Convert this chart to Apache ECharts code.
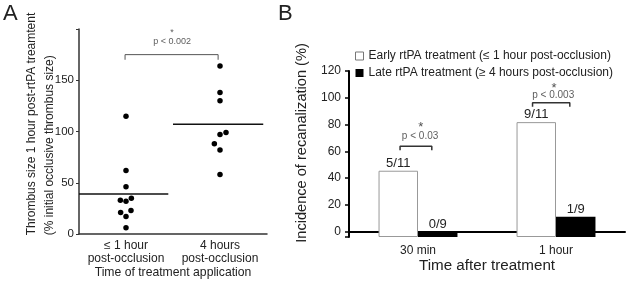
<!DOCTYPE html>
<html>
<head>
<meta charset="utf-8">
<script src="https://cdn.jsdelivr.net/npm/echarts@6/dist/echarts.min.js"></script>
<style>
  html, body { margin: 0; padding: 0; background: #fff; }
  #chart { width: 630px; height: 284px; }
</style>
</head>
<body>
<div id="chart"></div>
<script>
// panel A: thrombus size per mouse (% of initial), x jitter in category units
const groupA = ['≤ 1 hour\npost-occlusion', '4 hours\npost-occlusion']
const earlySize = [115, 62, 46, 33, 32, 35, 21, 23, 17, 6]
const earlyJitter = [0, 0, 0, -0.06, 0, 0.057, -0.057, 0.053, 0, 0]
const lateSize = [164, 138, 130, 99, 97, 88, 82, 58]
const lateJitter = [0, 0, 0, 0.064, 0, -0.06, 0, 0]
const meanSize = [39, 107]

// panel B: recanalization incidence (%)
const timesB = ['30 min', '1 hour']
const earlyPct = [45.5, 81.8]
const latePct = [0, 11.1]
const earlyFrac = ['5/11', '9/11']
const lateFrac = ['0/9', '1/9']

const font = 'Liberation Sans, Arial, sans-serif'
const ink = '#222'

const chart = echarts.init(document.getElementById('chart'), null, { renderer: 'canvas' })

// scatter points for panel A, centred on each category (0.5, 1.5)
const ptsEarly = earlySize.map((v, i) => [0.5 + earlyJitter[i], v])
const ptsLate = lateSize.map((v, i) => [1.5 + lateJitter[i], v])

const bracket = (x0, x1, y, leg) => [[x0, y - leg], [x0, y], [x1, y], [x1, y - leg]]

const option = {
    animation: false,
    textStyle: { fontFamily: font, color: ink },
    grid: [
        { left: 79, top: 29, width: 188, height: 207 },
        { left: 349, top: 71, width: 276, height: 166 }
    ],
    legend: {
        left: 355,
        top: 50,
        padding: 0,
        orient: 'vertical',
        itemWidth: 8,
        itemHeight: 8,
        itemGap: 5,
        icon: 'rect',
        textStyle: { fontFamily: font, fontSize: 12, color: ink },
        data: [
            { name: 'Early rtPA treatment (≤ 1 hour post-occlusion)', itemStyle: { color: '#fff', borderColor: '#777', borderWidth: 1 } },
            { name: 'Late rtPA treatment (≥ 4 hours post-occlusion)', itemStyle: { color: '#000' } }
        ]
    },
    xAxis: [
        {
            type: 'category', gridIndex: 0, data: groupA, boundaryGap: true,
            axisLine: { lineStyle: { color: '#333', width: 1.5 } },
            axisTick: { inside: true, length: 3, lineStyle: { color: '#333' } },
            axisLabel: { interval: 0, fontSize: 12, color: ink, margin: 5, lineHeight: 13, fontFamily: font },
            name: 'Time of treatment application', nameLocation: 'middle', nameGap: 33, nameMoveOverlap: false,
            nameTextStyle: { fontSize: 12.2, color: ink, fontFamily: font }
        },
        { type: 'value', gridIndex: 0, min: 0, max: 2, show: false },
        {
            type: 'category', gridIndex: 1, data: timesB, boundaryGap: true,
            axisLine: { lineStyle: { color: '#000', width: 2 } },
            axisTick: { length: 4, lineStyle: { color: '#000', width: 1.5 } },
            axisLabel: { interval: 0, fontSize: 12, color: ink, margin: 8, fontFamily: font },
            name: 'Time after treatment', nameLocation: 'middle', nameGap: 21, nameMoveOverlap: false,
            nameTextStyle: { fontSize: 15.2, color: ink, fontFamily: font }
        },
        { type: 'value', gridIndex: 1, min: 0, max: 2, show: false }
    ],
    yAxis: [
        {
            type: 'value', gridIndex: 0, min: 0, max: 200, interval: 50,
            splitLine: { show: false },
            axisLine: { show: true, lineStyle: { color: '#333', width: 1.5 } },
            axisTick: { show: true, length: 3, lineStyle: { color: '#333' } },
            axisLabel: {
                fontSize: 11.5, color: ink, margin: 5, fontFamily: font,
                formatter: v => (v === 200 ? '' : v)
            },
            // both lines start at the bottom of the axis, like the original
            name: '{l|Thrombus size 1 hour post-rtPA treamtent}\n{l|(% initial occlusive thrombus size)}',
            nameLocation: 'middle', nameRotate: 90, nameGap: 20, nameMoveOverlap: false,
            nameTextStyle: {
                fontSize: 12, lineHeight: 18, color: ink, fontFamily: font, padding: [0, 0, 0, 15],
                rich: { l: { align: 'left', fontSize: 12, lineHeight: 18, color: ink, fontFamily: font } }
            }
        },
        {
            type: 'value', gridIndex: 1, min: -4, max: 120, splitNumber: 6, startValue: -4,
            splitLine: { show: false },
            axisLine: { show: true, lineStyle: { color: '#000', width: 2 } },
            axisTick: { show: true, length: 4, lineStyle: { color: '#000', width: 1.5 } },
            axisLabel: {
                fontSize: 12, color: ink, margin: 8, fontFamily: font,
                formatter: v => (v < 0 ? '' : v)
            },
            name: 'Incidence of recanalization (%)',
            nameLocation: 'middle', nameRotate: 90, nameGap: 40, nameMoveOverlap: false,
            nameTextStyle: { fontSize: 14.6, color: ink, fontFamily: font, padding: [0, 0, 0, 22] }
        }
    ],
    series: [
        // panel A
        {
            type: 'scatter', xAxisIndex: 1, yAxisIndex: 0, data: ptsEarly,
            symbolSize: 5.5, itemStyle: { color: '#000', opacity: 1 }, silent: true
        },
        {
            type: 'scatter', xAxisIndex: 1, yAxisIndex: 0, data: ptsLate,
            symbolSize: 5.5, itemStyle: { color: '#000', opacity: 1 }, silent: true
        },
        {
            type: 'line', xAxisIndex: 1, yAxisIndex: 0, symbol: 'none',
            lineStyle: { color: '#111', width: 1.5 },
            data: [[0, meanSize[0]], [0.95, meanSize[0]]]
        },
        {
            type: 'line', xAxisIndex: 1, yAxisIndex: 0, symbol: 'none',
            lineStyle: { color: '#111', width: 1.5 },
            data: [[1.0, meanSize[1]], [1.96, meanSize[1]]]
        },
        {
            type: 'line', xAxisIndex: 1, yAxisIndex: 0, symbol: 'none',
            lineStyle: { color: '#555', width: 1 },
            data: bracket(0.49, 1.48, 175, 5)
        },
        {
            type: 'scatter', xAxisIndex: 1, yAxisIndex: 0, symbolSize: 0, silent: true,
            label: { show: true, position: 'inside', fontSize: 9, color: '#333', fontFamily: font, formatter: p => p.name },
            data: [
                { name: 'p < 0.002', value: [0.99, 187.5] },
                { name: '*', value: [0.99, 197] }
            ]
        },
        // panel B
        {
            name: 'Early rtPA treatment (≤ 1 hour post-occlusion)',
            type: 'bar', xAxisIndex: 2, yAxisIndex: 1, data: earlyPct,
            barWidth: '28.6%', barGap: '0%',
            itemStyle: { color: '#fff', borderColor: '#999', borderWidth: 1 },
            label: { show: true, position: 'top', distance: 1, fontSize: 13, color: ink, fontFamily: font, formatter: p => earlyFrac[p.dataIndex] }
        },
        {
            name: 'Late rtPA treatment (≥ 4 hours post-occlusion)',
            type: 'bar', xAxisIndex: 2, yAxisIndex: 1, data: latePct,
            barWidth: '28.6%', barGap: '0%',
            itemStyle: { color: '#000' },
            label: { show: true, position: 'top', distance: 1, fontSize: 13, color: ink, fontFamily: font, formatter: p => lateFrac[p.dataIndex] }
        },
        {
            type: 'line', xAxisIndex: 3, yAxisIndex: 1, symbol: 'none',
            lineStyle: { color: '#333', width: 1.5 },
            data: bracket(0.37, 0.6, 63.75, 3)
        },
        {
            type: 'line', xAxisIndex: 3, yAxisIndex: 1, symbol: 'none',
            lineStyle: { color: '#333', width: 1.5 },
            data: bracket(1.33, 1.6, 96.3, 3)
        },
        {
            type: 'scatter', xAxisIndex: 3, yAxisIndex: 1, symbolSize: 0, silent: true,
            label: { show: true, position: 'inside', fontSize: 10, color: '#333', fontFamily: font, formatter: p => p.name },
            data: [
                { name: 'p < 0.03', value: [0.515, 71.3] },
                { name: 'p < 0.003', value: [1.48, 102] }
            ]
        },
        {
            type: 'scatter', xAxisIndex: 3, yAxisIndex: 1, symbolSize: 0, silent: true,
            label: { show: true, position: 'inside', fontSize: 13, color: '#222', fontFamily: font, formatter: p => p.name },
            data: [
                { name: '*', value: [0.52, 77.5] },
                { name: '*', value: [1.485, 107] }
            ]
        }
    ],
    graphic: [
        { type: 'text', left: 3, top: 3, style: { text: 'A', fontSize: 22, fontFamily: font, fill: ink } },
        { type: 'text', left: 278, top: 3, style: { text: 'B', fontSize: 22, fontFamily: font, fill: ink } }
    ]
};

option && chart.setOption(option);
</script>
</body>
</html>
